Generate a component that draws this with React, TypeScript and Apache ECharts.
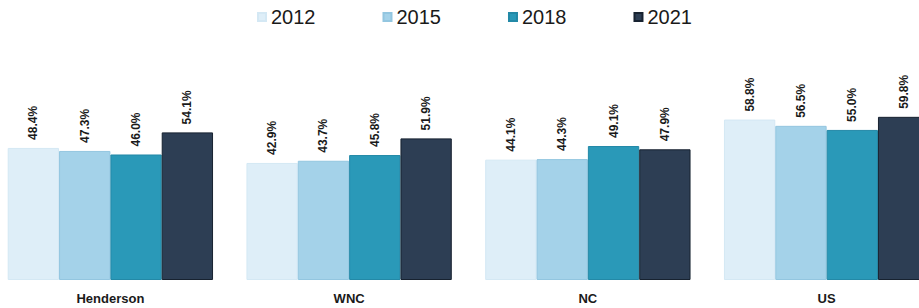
import React, { useEffect, useRef } from "react";
import * as echarts from "echarts";

const categories = ["Henderson", "WNC", "NC", "US"];
const seriesNames = ["2012", "2015", "2018", "2021"];
const values2012 = [48.4, 42.9, 44.1, 58.8];
const values2015 = [47.3, 43.7, 44.3, 56.5];
const values2018 = [46.0, 45.8, 49.1, 55.0];
const values2021 = [54.1, 51.9, 47.9, 59.8];
const seriesValues = [values2012, values2015, values2018, values2021];
const colors = ["#deeef8", "#a4d2e9", "#2a99b8", "#2d3e54"];
const borders = ["#d4e8f4", "#93c6e0", "#2389a7", "#172230"];

export default function App() {
  const ref = useRef<HTMLDivElement>(null);
  useEffect(() => {
    if (!ref.current) return;
    const chart = echarts.init(ref.current, undefined, { renderer: "svg" });
    chart.setOption({
      animation: false,
      backgroundColor: "#ffffff",
      legend: {
        left: 261,
        top: 2,
        itemWidth: 8,
        itemHeight: 8,
        itemGap: 67,
        icon: "rect",
        textStyle: { fontSize: 20, color: "#1a1a1a", fontFamily: "Liberation Sans, Arial, sans-serif" },
        data: seriesNames,
      },
      grid: { left: 0, right: 5, top: 89, bottom: 28, containLabel: false },
      xAxis: {
        type: "category",
        data: categories,
        axisLine: { show: false },
        axisTick: { show: false },
        axisLabel: {
          margin: 12,
          fontSize: 13,
          fontWeight: "bold",
          color: "#1a1a1a",
          fontFamily: "Liberation Sans, Arial, sans-serif",
        },
      },
      yAxis: { type: "value", min: 0, max: 70, show: false, splitLine: { show: false } },
      series: seriesNames.map((name, i) => ({
        name,
        type: "bar",
        data: seriesValues[i],
        barGap: "0%",
        barCategoryGap: "14%",
        itemStyle: { color: colors[i], borderColor: borders[i], borderWidth: 1 },
        label: {
          show: true,
          position: "top",
          distance: 8,
          rotate: 90,
          align: "left",
          verticalAlign: "middle",
          formatter: (p: any) => p.value.toFixed(1) + "%",
          fontSize: 12,
          fontWeight: "bold",
          color: "#1a1a1a",
          fontFamily: "Liberation Sans Narrow, Arial Narrow, Liberation Sans, sans-serif",
        },
      })),
    });
    return () => chart.dispose();
  }, []);
  return (
    <div style={{ position: "fixed", left: 0, top: 0, width: 919, height: 308, overflow: "hidden", background: "#fff" }}>
      <div ref={ref} style={{ position: "absolute", left: -9, top: 0, width: 960, height: 308 }} />
    </div>
  );
}
